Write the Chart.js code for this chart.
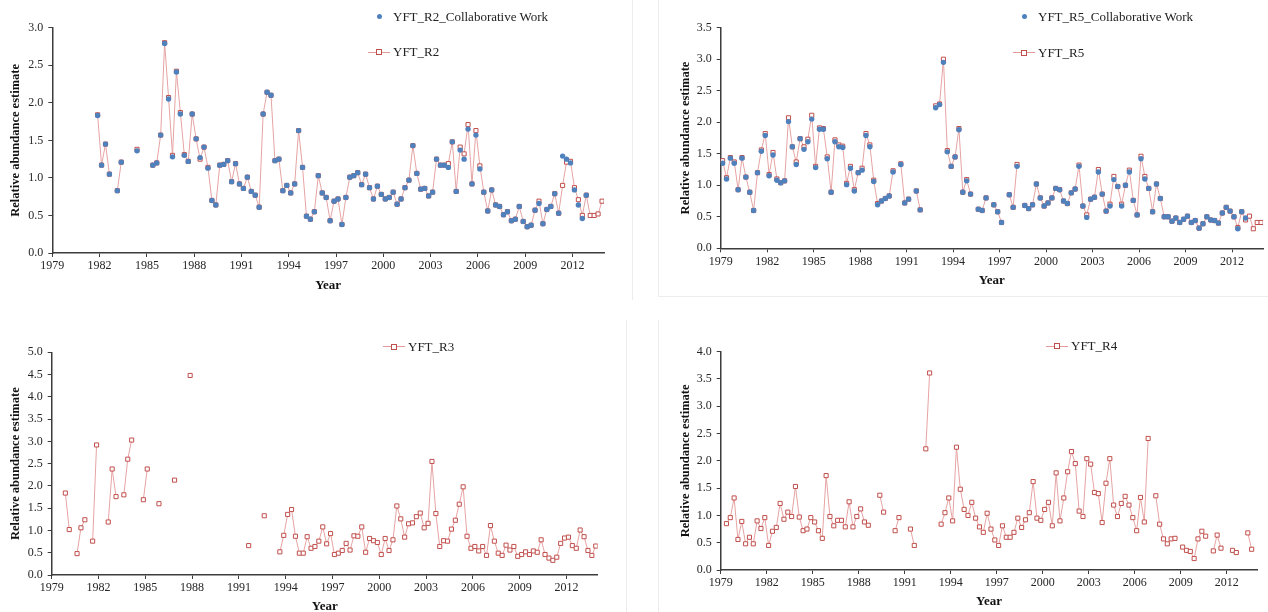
<!DOCTYPE html>
<html>
<head>
<meta charset="utf-8">
<title>YFT relative abundance estimates</title>
<script src="https://cdn.jsdelivr.net/npm/chart.js@4.4.0/dist/chart.umd.min.js"></script>
<style>
  html, body { margin: 0; padding: 0; background: #fff; overflow: hidden; }
  #page { position: relative; width: 1268px; height: 612px; }
  canvas { position: absolute; }
  .frame { position: absolute; background: #ededed; }
  .legend { position: absolute; font: 13px "Liberation Serif", "Times New Roman", serif; color: #222; white-space: nowrap; height: 16px; line-height: 16px; }
  .legend .sym { position: absolute; left: 0; top: 0; width: 22px; height: 16px; }
  .legend .sym .ln { position: absolute; left: 0; right: 0; top: 7.5px; height: 1px; background: #e39a9a; }
  .legend .sym .sq { position: absolute; left: 8px; top: 5px; width: 4px; height: 4px; border: 1px solid #c0504d; background: #fff; }
  .legend .sym .dot { position: absolute; left: 8.5px; top: 5.5px; width: 5px; height: 5px; border-radius: 50%; background: #4f81bd; }
  .legend .txt { position: absolute; top: 0; left: 25px; }
</style>
</head>
<body>
<div id="page"></div>
<script>
// quarterly series, Q1..Q4 for every year 1979-2013
const years = [1979, 1980, 1981, 1982, 1983, 1984, 1985, 1986, 1987, 1988, 1989, 1990,
  1991, 1992, 1993, 1994, 1995, 1996, 1997, 1998, 1999, 2000, 2001, 2002,
  2003, 2004, 2005, 2006, 2007, 2008, 2009, 2010, 2011, 2012, 2013];
const quarterMid = [0.125, 0.375, 0.625, 0.875];
const yearTicks = [1979, 1982, 1985, 1988, 1991, 1994, 1997, 2000, 2003, 2006, 2009, 2012];

const r2Collab = [
  null, null, null, null,  null, null, null, null,  null, null, null, 1.83,  1.17, 1.45, 1.05, null, // 1979-82
  0.83, 1.21, null, null,  null, 1.36, null, null,  null, 1.17, 1.20, 1.57,  2.79, 2.05, 1.28, 2.41, // 1983-86
  1.85, 1.30, 1.22, 1.85,  1.52, 1.27, 1.41, 1.13,  0.70, 0.64, 1.17, 1.18,  1.23, 0.95, 1.19, 0.92, // 1987-90
  0.86, 1.01, 0.82, 0.77,  0.61, 1.85, 2.14, 2.10,  1.23, 1.25, 0.83, 0.90,  0.80, 0.92, 1.63, 1.14, // 1991-94
  0.49, 0.45, 0.55, 1.03,  0.80, 0.74, 0.43, 0.69,  0.72, 0.38, 0.74, 1.01,  1.03, 1.07, 0.91, 1.05, // 1995-98
  0.87, 0.72, 0.89, 0.78,  0.72, 0.74, 0.81, 0.65,  0.72, 0.87, 0.97, 1.43,  1.06, 0.85, 0.86, 0.76, // 1999-02
  0.81, 1.25, 1.17, 1.17,  1.14, 1.48, 0.82, 1.37,  1.25, 1.65, 0.92, 1.57,  1.12, 0.81, 0.56, 0.84, // 2003-06
  0.64, 0.62, 0.51, 0.55,  0.43, 0.45, 0.62, 0.42,  0.35, 0.37, 0.57, 0.66,  0.39, 0.58, 0.62, 0.79, // 2007-10
  0.53, 1.29, 1.25, 1.20,  0.84, 0.64, 0.46, 0.77,  null, null, null, null                          // 2011-13
];
const r2 = [
  null, null, null, null,  null, null, null, null,  null, null, null, 1.84,  1.17, 1.45, 1.05, null,
  0.83, 1.21, null, null,  null, 1.38, null, null,  null, 1.17, 1.20, 1.57,  2.80, 2.07, 1.30, 2.42,
  1.87, 1.31, 1.22, 1.85,  1.52, 1.25, 1.41, 1.14,  0.70, 0.64, 1.17, 1.18,  1.23, 0.95, 1.19, 0.92,
  0.86, 1.01, 0.82, 0.77,  0.61, 1.85, 2.14, 2.10,  1.23, 1.25, 0.83, 0.90,  0.80, 0.92, 1.63, 1.14,
  0.49, 0.45, 0.55, 1.03,  0.80, 0.74, 0.43, 0.69,  0.72, 0.38, 0.74, 1.01,  1.03, 1.07, 0.91, 1.05,
  0.87, 0.72, 0.89, 0.78,  0.72, 0.74, 0.81, 0.65,  0.72, 0.87, 0.97, 1.43,  1.06, 0.85, 0.86, 0.76,
  0.81, 1.25, 1.17, 1.17,  1.19, 1.48, 0.82, 1.41,  1.32, 1.71, 0.92, 1.63,  1.16, 0.81, 0.56, 0.84,
  0.64, 0.62, 0.51, 0.55,  0.43, 0.45, 0.62, 0.42,  0.35, 0.37, 0.57, 0.69,  0.39, 0.58, 0.62, 0.79,
  0.53, 0.90, 1.21, 1.22,  0.87, 0.71, 0.50, 0.77,  0.50, 0.50, 0.52, 0.69
];
const r5Collab = [
  1.35, 1.10, 1.43, 1.35,  0.93, 1.43, 1.13, 0.89,  0.60, 1.20, 1.54, 1.79,  1.15, 1.48, 1.08, 1.04,
  1.07, 2.01, 1.61, 1.33,  1.74, 1.57, 1.69, 2.05,  1.28, 1.89, 1.89, 1.42,  0.89, 1.69, 1.61, 1.60,
  1.01, 1.27, 0.91, 1.20,  1.24, 1.79, 1.61, 1.06,  0.69, 0.75, 0.79, 0.83,  1.21, null, 1.33, 0.72,
  0.78, null, 0.91, 0.61,  null, null, null, 2.23,  2.28, 2.95, 1.53, 1.30,  1.45, 1.88, 0.89, 1.07,
  0.86, null, 0.62, 0.60,  0.80, null, 0.69, 0.58,  0.41, null, 0.85, 0.65,  1.30, null, 0.68, 0.63,
  0.69, 1.02, 0.80, 0.67,  0.72, 0.80, 0.95, 0.93,  0.75, 0.71, 0.88, 0.94,  1.30, 0.67, 0.49, 0.78,
  0.81, 1.21, 0.86, 0.59,  0.67, 1.09, 0.98, 0.67,  1.00, 1.21, 0.76, 0.53,  1.42, 1.10, 0.95, 0.58,
  1.02, 0.79, 0.50, 0.50,  0.43, 0.48, 0.41, 0.46,  0.51, 0.41, 0.44, 0.32,  0.39, 0.50, 0.45, 0.44,
  0.40, 0.56, 0.65, 0.59,  0.50, 0.31, 0.58, 0.48,  null, null, null, null
];
const r5 = [
  1.39, 1.12, 1.44, 1.37,  0.93, 1.44, 1.13, 0.89,  0.60, 1.20, 1.56, 1.82,  1.17, 1.52, 1.10, 1.04,
  1.07, 2.07, 1.61, 1.37,  1.74, 1.61, 1.73, 2.11,  1.30, 1.91, 1.90, 1.45,  0.89, 1.72, 1.64, 1.62,
  1.03, 1.30, 0.93, 1.20,  1.27, 1.82, 1.64, 1.08,  0.71, 0.75, 0.79, 0.83,  1.23, null, 1.34, 0.72,
  0.78, null, 0.91, 0.61,  null, null, null, 2.26,  2.29, 3.00, 1.55, 1.30,  1.45, 1.90, 0.89, 1.09,
  0.86, null, 0.62, 0.60,  0.80, null, 0.69, 0.58,  0.41, null, 0.85, 0.65,  1.33, null, 0.68, 0.63,
  0.69, 1.02, 0.80, 0.67,  0.72, 0.80, 0.95, 0.93,  0.75, 0.71, 0.88, 0.94,  1.32, 0.67, 0.53, 0.78,
  0.81, 1.25, 0.86, 0.59,  0.70, 1.14, 0.98, 0.70,  1.00, 1.24, 0.76, 0.53,  1.46, 1.14, 0.95, 0.58,
  1.02, 0.79, 0.50, 0.50,  0.43, 0.48, 0.41, 0.46,  0.51, 0.41, 0.44, 0.32,  0.39, 0.50, 0.45, 0.44,
  0.40, 0.56, 0.65, 0.59,  0.50, 0.33, 0.58, 0.45,  0.51, 0.31, 0.41, 0.41
];
const r3 = [
  null, null, null, 1.84,  1.02, null, 0.48, 1.06,  1.24, null, 0.76, 2.92,  null, null, 1.19, 2.38,
  1.76, null, 1.80, 2.60,  3.03, null, null, 1.69,  2.38, null, null, 1.60,  null, null, null, 2.13,
  null, null, null, 4.48,  null, null, null, null,  null, null, null, null,  null, null, null, null,
  null, null, 0.66, null,  null, null, 1.33, null,  null, null, 0.52, 0.89,  1.36, 1.47, 0.87, 0.49,
  0.49, 0.86, 0.60, 0.64,  0.76, 1.08, 0.70, 0.93,  0.46, 0.49, 0.55, 0.71,  0.56, 0.88, 0.87, 1.08,
  0.51, 0.82, 0.77, 0.73,  0.46, 0.82, 0.55, 0.79,  1.55, 1.26, 0.85, 1.15,  1.17, 1.31, 1.39, 1.06,
  1.16, 2.55, 1.38, 0.64,  0.77, 0.76, 1.03, 1.23,  1.59, 1.98, 0.87, 0.60,  0.64, 0.54, 0.64, 0.44,
  1.11, 0.76, 0.49, 0.44,  0.67, 0.56, 0.64, 0.42,  0.46, 0.52, 0.46, 0.54,  0.51, 0.79, 0.46, 0.38,
  0.33, 0.40, 0.71, 0.83,  0.85, 0.66, 0.60, 1.01,  0.86, 0.55, 0.44, 0.65
];
const r4 = [
  null, 0.85, 0.96, 1.32,  0.56, 0.89, 0.48, 0.60,  0.48, 0.90, 0.76, 0.96,  0.45, 0.71, 0.78, 1.22,
  0.93, 1.06, 0.98, 1.53,  0.97, 0.72, 0.75, 0.96,  0.88, 0.72, 0.58, 1.73,  0.98, 0.81, 0.91, 0.91,
  0.79, 1.25, 0.79, 0.98,  1.12, 0.88, 0.82, null,  null, 1.37, 1.06, null,  null, 0.72, 0.96, null,
  null, 0.75, 0.45, null,  null, 2.22, 3.61, null,  null, 0.84, 1.05, 1.32,  0.90, 2.25, 1.48, 1.11,
  1.00, 1.24, 0.95, 0.79,  0.69, 1.04, 0.75, 0.55,  0.45, 0.81, 0.60, 0.60,  0.69, 0.95, 0.78, 0.92,
  1.05, 1.62, 0.95, 0.91,  1.11, 1.24, 0.81, 1.78,  0.90, 1.32, 1.80, 2.17,  1.95, 1.08, 0.98, 2.04,
  1.94, 1.42, 1.40, 0.87,  1.59, 2.04, 1.19, 0.98,  1.22, 1.35, 1.19, 0.96,  0.72, 1.33, 0.88, 2.41,
  null, 1.36, 0.84, 0.57,  0.48, 0.57, 0.58, null,  0.42, 0.36, 0.34, 0.21,  0.57, 0.71, 0.62, null,
  0.35, 0.64, 0.40, null,  null, 0.36, 0.32, null,  null, 0.68, 0.38, null
];

const FONT = '"Liberation Serif", "Times New Roman", serif';
const INK = '#262626';
const AXIS = '#3c3c3c';
const BLUE = '#4f81bd';

function toPoints(values) {
  return values.map((v, i) => ({ x: years[Math.floor(i / 4)] + quarterMid[i % 4], y: v }));
}

function blueSet(label, values) {
  return {
    label: label, data: toPoints(values), showLine: false,
    pointStyle: 'circle', pointRadius: 2.7, pointBackgroundColor: BLUE, pointBorderColor: BLUE, pointBorderWidth: 0
  };
}
function redSet(label, values) {
  return {
    label: label, data: toPoints(values), spanGaps: false,
    borderColor: '#e6a3a3', borderWidth: 1, tension: 0,
    pointStyle: 'rect', pointRadius: 2.9, pointBorderColor: '#c0504d', pointBackgroundColor: '#fff', pointBorderWidth: 1
  };
}

// box = canvas [left, top, width, height]; area = plot [left, top, right, bottom]
const panels = [
  { box: [0, 0, 630, 300], area: [52.3, 27.7, 604, 253], yMax: 3, yTitleX: 16, yearY: 286,
    datasets: [blueSet('YFT_R2_Collaborative Work', r2Collab), redSet('YFT_R2', r2)],
    legend: [{ kind: 'dot', x: 368, y: 16.7, text: 'YFT_R2_Collaborative Work' }, { kind: 'line', x: 368, y: 52, text: 'YFT_R2' }] },
  { box: [660, 0, 608, 300], area: [720.7, 27.7, 1264, 248.3], yMax: 3.5, yTitleX: 686, yearY: 281,
    datasets: [blueSet('YFT_R5_Collaborative Work', r5Collab), redSet('YFT_R5', r5)],
    legend: [{ kind: 'dot', x: 1013, y: 16.7, text: 'YFT_R5_Collaborative Work' }, { kind: 'line', x: 1013, y: 52.7, text: 'YFT_R5' }] },
  { box: [0, 310, 630, 302], area: [51.7, 352.3, 597.7, 575], yMax: 5, yTitleX: 16, yearY: 606.7,
    datasets: [redSet('YFT_R3', r3)],
    legend: [{ kind: 'line', x: 383, y: 346.7, text: 'YFT_R3' }] },
  { box: [660, 310, 608, 302], area: [720.7, 351.7, 1257.4, 570], yMax: 4, yTitleX: 686, yearY: 601.7,
    datasets: [redSet('YFT_R4', r4)],
    legend: [{ kind: 'line', x: 1046, y: 346, text: 'YFT_R4' }] }
];

const page = document.getElementById('page');

// faint chart frames
[[632, 0, 1, 300], [658, 0, 1, 296], [658, 296, 610, 1], [626, 320, 1, 292], [658, 320, 1, 292]].forEach(f => {
  const d = document.createElement('div');
  d.className = 'frame';
  d.style.cssText = `left:${f[0]}px;top:${f[1]}px;width:${f[2]}px;height:${f[3]}px`;
  page.appendChild(d);
});

panels.forEach(p => {
  const [bl, bt, bw, bh] = p.box;
  const [al, at, ar, ab] = p.area;
  const cv = document.createElement('canvas');
  cv.width = bw; cv.height = bh;
  cv.style.left = bl + 'px'; cv.style.top = bt + 'px';
  page.appendChild(cv);

  const titleFont = { family: FONT, size: 13, weight: 'bold' };
  const titleLH = 13 * 1.2;

  new Chart(cv, {
    type: 'line',
    data: { datasets: p.datasets },
    options: {
      responsive: false, animation: false,
      layout: { padding: { top: at - bt, right: bl + bw - ar, bottom: 0, left: 0 } },
      plugins: { legend: { display: false }, tooltip: { enabled: false } },
      scales: {
        x: {
          type: 'linear', min: 1979, max: 2014,
          afterBuildTicks: s => { s.ticks = yearTicks.map(v => ({ value: v })); },
          afterFit: s => { s.height = bt + bh - ab; },
          border: { color: AXIS, width: 1.5 },
          grid: { drawOnChartArea: false, drawTicks: true, tickLength: 4, color: AXIS },
          ticks: { font: { family: FONT, size: 12 }, color: INK, padding: 2, maxRotation: 0, autoSkip: false, callback: v => String(v) },
          title: { display: true, text: 'Year', font: titleFont, color: '#111',
                   padding: { top: 0, bottom: bt + bh - titleLH / 2 - p.yearY } }
        },
        y: {
          min: 0, max: p.yMax,
          afterFit: s => { s.width = al - bl; },
          border: { color: AXIS, width: 1.5 },
          grid: { drawOnChartArea: false, drawTicks: true, tickLength: 4, color: AXIS },
          ticks: { stepSize: 0.5, font: { family: FONT, size: 12 }, color: INK, padding: 5, callback: v => v.toFixed(1) },
          title: { display: true, text: 'Relative abundance estimate', font: { family: FONT, size: 12.5, weight: 'bold' }, color: '#111',
                   padding: { top: p.yTitleX - bl - 12.5 * 1.2 / 2, bottom: 0 } }
        }
      }
    }
  });

  p.legend.forEach(item => {
    const lg = document.createElement('div');
    lg.className = 'legend';
    lg.style.left = item.x + 'px';
    lg.style.top = (item.y - 8) + 'px';
    const sym = item.kind === 'dot'
      ? '<span class="sym"><span class="dot"></span></span>'
      : '<span class="sym"><span class="ln"></span><span class="sq"></span></span>';
    lg.innerHTML = sym + '<span class="txt">' + item.text + '</span>';
    page.appendChild(lg);
  });
});
</script>
</body>
</html>
